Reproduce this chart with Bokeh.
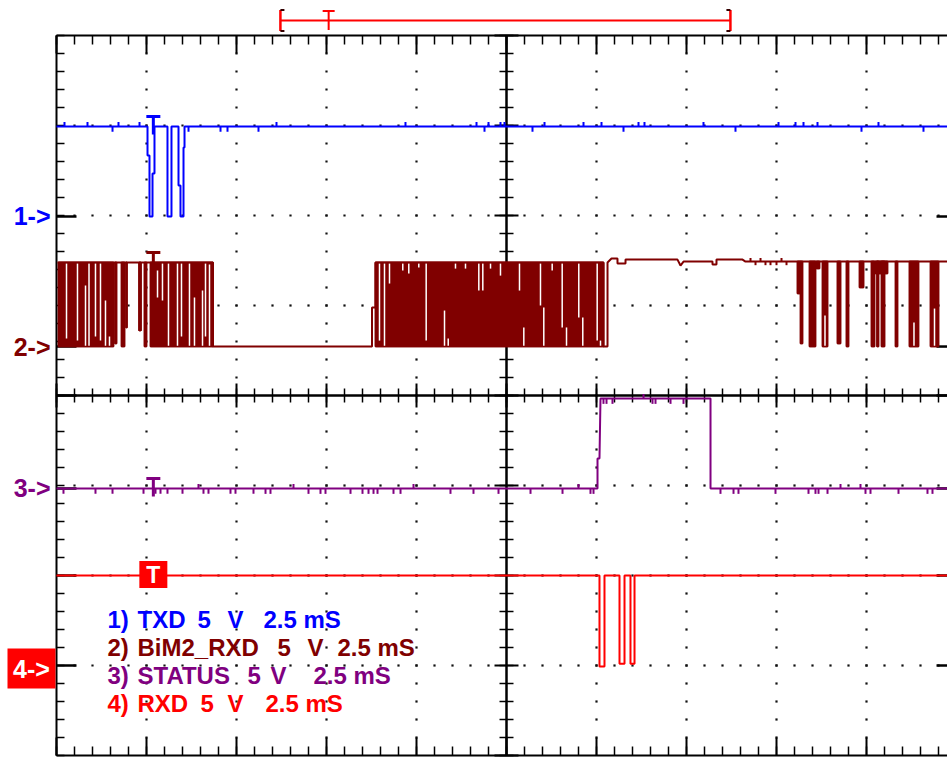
import numpy as np
from bokeh.plotting import figure
from bokeh.models import Range1d
from bokeh.embed import file_html
from bokeh.resources import INLINE
from bokeh.core.properties import value

# ================= scope settings =================
MS_PER_DIV = 2.5
V_PER_DIV = 5.0
N_XDIV = 10
N_YDIV = 8
CH_NAMES = ["TXD", "BiM2_RXD", "STATUS", "RXD"]
CH_COLORS = ["#0000FF", "#800000", "#800080", "#FF0000"]
CH_GROUND_DIV = [1.99, 0.544, -1.033, -3.0]      # ground markers 1-> .. 4->
TRIG_T = 2.69                                     # ms from left edge of screen
TRIG_LEVEL_V = 5.0                                # trigger on channel 4
TRACE_T_LEVEL_V = [5.0, 4.67, 0.0]                # level of the T marks on ch1..ch3
REC_WINDOW_T = [6.22, 18.72]                      # record bar at the top
REC_TRIG_T = 7.56

# ================= channel 1 : TXD =================
CH1_T = [0.0, 2.528, 2.528, 2.583, 2.583, 2.667, 2.667, 2.722, 2.722, 3.083, 3.083,
         3.194, 3.194, 3.389, 3.389, 3.444, 3.444, 3.528, 3.528, 3.556, 3.556, 25.0]
CH1_V = [5.0, 5.0, 3.39, 3.39, 0.0, 0.0, 2.39, 2.39, 5.0, 5.0, 0.0,
         0.0, 5.0, 5.0, 1.72, 1.72, 0.0, 0.0, 3.83, 3.83, 5.0, 5.0]
CH1_GLITCH_T = [0.222, 0.861, 1.556, 1.722, 2.306, 3.667, 4.556, 4.75, 5.611, 6.111,
                9.694, 11.667, 11.889, 12.0, 12.333, 12.444, 13.222, 13.556, 14.639, 15.139,
                15.75, 16.167, 16.333, 17.972, 18.861, 20.056, 20.528, 20.75, 21.139, 22.361,
                22.833, 24.083]
CH1_GLITCH_DV = [0.25, 0.25, -0.3, 0.25, 0.25, -0.3, -0.3, -0.3, -0.3, 0.25,
                 0.25, 0.25, -0.3, 0.25, 0.25, 0.25, -0.3, 0.25, 0.25, 0.25,
                 -0.3, 0.25, 0.25, 0.25, -0.3, 0.25, 0.25, 0.25, 0.25, -0.3,
                 0.25, -0.3]

# ================= channel 2 : BiM2_RXD =================
CH2_T = [0.028, 4.347, 4.347, 8.764, 8.764, 8.861, 8.861, 15.194, 15.194, 15.306, 15.306,
         15.417, 15.583, 15.583, 15.806, 15.806, 17.25, 17.333, 17.417, 18.222, 18.222,
         18.333, 18.333, 19.056, 19.139, 25.0]
CH2_V = [4.67, 4.67, 0.0, 0.0, 2.17, 2.17, 4.67, 4.67, 0.0, 0.0, 4.67,
         4.89, 4.89, 4.61, 4.61, 4.83, 4.83, 4.5, 4.72, 4.72, 4.56,
         4.56, 4.83, 4.83, 4.72, 4.72]
# bursts / pulses (fast toggling shown as filled blocks)
CH2_BLK_T0 = [0.056, 1.625, 1.806, 1.931, 2.292, 2.444, 2.611, 8.861,
              20.583, 20.667, 20.917, 21.111, 21.278, 21.694, 21.944, 22.306,
              22.639, 22.75, 22.792, 22.917, 23.306, 23.694, 24.278]
CH2_BLK_T1 = [1.583, 1.667, 1.889, 1.958, 2.347, 2.5, 4.347, 15.194,
              20.667, 20.722, 21.083, 21.194, 21.417, 21.778, 22.0, 22.417,
              22.722, 23.083, 22.833, 23.0, 23.361, 23.944, 24.5]
CH2_BLK_VLO = [0.0, 0.17, 0.0, 1.06, 0.89, 0.0, 0.0, 0.0,
               2.94, 0.17, 0.0, 4.33, 0.0, 0.17, 0.0, 3.28,
               0.0, 4.06, 0.0, 0.0, 0.0, 0.0, 0.0]
CH2_BLK_VHI = [4.67, 4.67, 4.67, 4.67, 4.67, 4.67, 4.67, 4.67,
               4.72, 4.72, 4.72, 4.72, 4.72, 4.72, 4.72, 4.72,
               4.72, 4.72, 4.72, 4.72, 4.72, 4.72, 4.72]
# gaps inside the bursts (signal held for a moment)
CH2_GAP_T = [0.278, 0.583, 0.806, 0.903, 1.083, 1.222, 1.361, 1.472,
             2.806, 2.944, 3.111, 3.361, 3.472, 3.694, 3.833, 4.056, 4.139, 4.25,
             8.972, 9.111, 9.25, 9.619, 9.786, 10.064, 10.269, 10.778, 10.881, 11.083,
             11.361, 11.731, 11.842, 12.056, 12.333, 12.861, 12.981, 13.444, 13.536, 13.769,
             14.047, 14.167, 14.508, 14.619, 15.019, 15.111,
             21.347, 23.819, 24.389]
CH2_GAP_VTOP = [4.67, 4.67, 3.39, 4.67, 4.67, 4.67, 2.56, 0.56,
                4.22, 4.67, 4.67, 4.67, 4.67, 4.67, 2.72, 3.11, 4.67, 4.56,
                4.67, 4.67, 4.67, 4.67, 4.67, 4.67, 4.67, 2.0, 0.44, 4.67,
                4.67, 4.67, 4.67, 4.67, 4.67, 4.67, 1.06, 4.67, 2.17, 4.67,
                4.67, 1.06, 4.67, 1.61, 4.67, 0.33,
                1.72, 1.33, 2.11]
CH2_GAP_VBOT = [0.44, 0.33, 0.0, 0.0, 0.56, 0.33, 0.0, 0.0,
                2.72, 2.56, 0.0, 0.0, 0.56, 0.0, 0.0, 0.0, 0.56, 0.0,
                0.33, 0.0, 3.5, 4.22, 4.06, 4.39, 0.33, 0.0, 0.0, 4.33,
                4.33, 3.11, 3.11, 4.33, 3.94, 3.11, 0.0, 2.28, 0.0, 4.22,
                1.06, 0.0, 1.61, 0.0, 0.33, 0.0,
                0.0, 0.0, 0.0]
CH2_GLITCH_T = [19.278, 19.417, 19.556, 19.694, 19.833, 20.0, 20.139, 20.278]
CH2_GLITCH_DV = [0.2, -0.2, 0.2, -0.2, -0.2, -0.2, 0.2, -0.2]

# ================= channel 3 : STATUS =================
CH3_T = [0.0, 15.028, 15.028, 15.083, 15.111, 18.167, 18.167, 25.0]
CH3_V = [0.0, 0.0, 1.67, 1.67, 5.0, 5.0, 0.0, 0.0]
CH3_GLITCH_T = [0.194, 1.083, 1.556, 2.417, 2.75, 2.889, 3.083, 3.5, 3.944, 4.083,
                4.222, 4.833, 4.972, 5.472, 5.806, 5.944, 6.583, 7.0, 7.333, 7.472,
                8.167, 8.5, 8.667, 8.806, 8.917, 9.361, 9.556, 9.917, 10.944, 11.583,
                12.278, 13.167, 14.056, 14.5, 14.833, 14.917, 15.194, 15.278, 15.444, 16.306,
                16.556, 16.639, 17.056, 17.417, 18.444, 18.806, 18.944, 19.972, 20.889, 21.083,
                21.167, 21.417, 21.778, 22.333, 22.472, 22.611, 23.389, 24.194, 24.333]
CH3_GLITCH_DV = [-0.3, -0.3, -0.3, -0.3, -0.3, -0.3, -0.3, -0.3, 0.25, -0.3,
                 -0.3, -0.3, -0.3, -0.3, -0.3, -0.3, 0.25, -0.3, -0.3, -0.3,
                 -0.3, -0.3, -0.3, -0.3, -0.3, -0.3, -0.3, 0.25, -0.3, -0.3,
                 -0.3, -0.3, -0.3, 0.25, -0.3, -0.3, -0.3, -0.3, -0.3, 0.25,
                 -0.3, -0.3, -0.3, -0.3, -0.3, -0.3, -0.3, -0.3, -0.3, -0.3,
                 -0.3, -0.3, 0.25, 0.25, -0.3, -0.3, -0.3, -0.3, -0.3]

# ================= channel 4 : RXD =================
CH4_T = [0.0, 15.083, 15.083, 15.222, 15.222, 15.639, 15.639, 15.778, 15.778,
         15.944, 15.944, 16.056, 16.056, 25.0]
CH4_V = [5.0, 5.0, -0.05, -0.05, 5.0, 5.0, 0.1, 0.1, 5.0,
         5.0, 0.1, 0.1, 5.0, 5.0]

# ================= legend =================
LEG_SCALE = ["5", "V", "2.5", "mS"]

# ================= layout (screen geometry) =================
W, H = 947, 758
PX_MS, PX_DIV = 36.0, 90.0          # px per ms, px per division
ORG_X, ORG_Y = 56.0, 395.0          # px of t=0 / y=0 (screen centre line)
FONT = value("Liberation Sans")


def tx(px):   # px -> ms
    return (px - ORG_X) / PX_MS


def ty(py):   # px -> div
    return (ORG_Y - py) / PX_DIV


def vdiv(ch, v):
    return CH_GROUND_DIV[ch] + np.asarray(v, dtype=float) / V_PER_DIV


p = figure(width=W, height=H, output_backend="svg", toolbar_location=None,
           x_range=Range1d(-ORG_X / PX_MS, (W - ORG_X) / PX_MS),
           y_range=Range1d(-(H - ORG_Y) / PX_DIV, ORG_Y / PX_DIV),
           x_axis_location=None, y_axis_location=None, title=None,
           min_border=0, outline_line_color=None,
           background_fill_color="white", border_fill_color="white")
p.xgrid.grid_line_color = None
p.ygrid.grid_line_color = None

T_END = N_XDIV * MS_PER_DIV
Y_TOP = N_YDIV / 2
xs_minor = np.arange(0, N_XDIV * 5 + 1) * MS_PER_DIV / 5
xs_major = np.arange(0, N_XDIV + 1) * MS_PER_DIV
ys_minor = np.arange(-N_YDIV * 5 // 2, N_YDIV * 5 // 2 + 1) / 5.0
ys_major = np.arange(-N_YDIV // 2, N_YDIV // 2 + 1).astype(float)
X_MID = T_END / 2

# ---- dotted graticule ----
dx, dy = [], []
for xm in xs_major[1:-1]:
    if abs(xm - X_MID) < 1e-9:
        continue
    for yv in ys_minor[1:-1]:
        dx.append(xm); dy.append(yv)
for ym in ys_major[1:-1]:
    if abs(ym) < 1e-9:
        continue
    for xv in xs_minor[1:-1]:
        if abs(xv - X_MID) < 1e-9:
            continue
        dx.append(xv); dy.append(ym)
p.scatter(dx, dy, marker="square", size=2.2, fill_color="#111111", line_color=None)

BLK = "#000000"
# ---- border ----
p.segment(x0=[0, 0, 0, T_END], y0=[-Y_TOP, Y_TOP, -Y_TOP, -Y_TOP],
          x1=[0, T_END, T_END, T_END], y1=[Y_TOP, Y_TOP, -Y_TOP, Y_TOP],
          line_color=BLK, line_width=2)
# top / bottom ticks
mn, mj = 9 / PX_DIV, 18 / PX_DIV
p.segment(x0=xs_minor, y0=[Y_TOP] * len(xs_minor), x1=xs_minor, y1=[Y_TOP - mn] * len(xs_minor),
          line_color=BLK, line_width=1.5)
p.segment(x0=xs_major, y0=[Y_TOP] * len(xs_major), x1=xs_major, y1=[Y_TOP - mj] * len(xs_major),
          line_color=BLK, line_width=2)
p.segment(x0=xs_minor, y0=[-Y_TOP] * len(xs_minor), x1=xs_minor, y1=[-Y_TOP + mn] * len(xs_minor),
          line_color=BLK, line_width=1.5)
p.segment(x0=xs_major, y0=[-Y_TOP] * len(xs_major), x1=xs_major, y1=[-Y_TOP + mj] * len(xs_major),
          line_color=BLK, line_width=2)
# left / right ticks
lm = 8 / PX_MS
p.segment(x0=[0] * len(ys_minor), y0=ys_minor, x1=[lm] * len(ys_minor), y1=ys_minor,
          line_color=BLK, line_width=1.5)
p.segment(x0=[T_END] * len(ys_minor), y0=ys_minor, x1=[T_END - lm] * len(ys_minor), y1=ys_minor,
          line_color=BLK, line_width=1.5)
marks_y = list(CH_GROUND_DIV) + [0.0, CH_GROUND_DIV[3] + TRIG_LEVEL_V / V_PER_DIV]
ll = 20 / PX_MS
p.segment(x0=[0] * len(marks_y), y0=marks_y, x1=[ll] * len(marks_y), y1=marks_y,
          line_color=BLK, line_width=2.5)
p.segment(x0=[T_END] * len(marks_y), y0=marks_y, x1=[T_END - ll] * len(marks_y), y1=marks_y,
          line_color=BLK, line_width=2.5)
# centre cross
p.segment(x0=[0, X_MID], y0=[0, -Y_TOP], x1=[T_END, X_MID], y1=[0, Y_TOP],
          line_color=BLK, line_width=2.5)
ct, cj = 7 / PX_DIV, 12 / PX_DIV
p.segment(x0=xs_minor, y0=[-ct] * len(xs_minor), x1=xs_minor, y1=[ct] * len(xs_minor),
          line_color=BLK, line_width=1.5)
p.segment(x0=xs_major, y0=[-cj] * len(xs_major), x1=xs_major, y1=[cj] * len(xs_major),
          line_color=BLK, line_width=2)
ctx, cjx = 7 / PX_MS, 12 / PX_MS
p.segment(x0=[X_MID - ctx] * len(ys_minor), y0=ys_minor, x1=[X_MID + ctx] * len(ys_minor), y1=ys_minor,
          line_color=BLK, line_width=1.5)
p.segment(x0=[X_MID - cjx] * len(ys_major), y0=ys_major, x1=[X_MID + cjx] * len(ys_major), y1=ys_major,
          line_color=BLK, line_width=2)

# ================= traces =================
LW = 2
# channel 1
c = CH_COLORS[0]
p.line(CH1_T, vdiv(0, CH1_V), line_color=c, line_width=LW)
b1 = np.interp(CH1_GLITCH_T, CH1_T, CH1_V)
p.segment(x0=CH1_GLITCH_T, y0=vdiv(0, b1), x1=CH1_GLITCH_T, y1=vdiv(0, b1 + np.array(CH1_GLITCH_DV)),
          line_color=c, line_width=2)

# channel 2
c = CH_COLORS[1]
p.quad(left=CH2_BLK_T0, right=CH2_BLK_T1, bottom=vdiv(1, CH2_BLK_VLO), top=vdiv(1, CH2_BLK_VHI),
       fill_color=c, line_color=c, line_width=1.5)
p.segment(x0=CH2_GAP_T, y0=vdiv(1, CH2_GAP_VTOP), x1=CH2_GAP_T, y1=vdiv(1, CH2_GAP_VBOT),
          line_color="white", line_width=1.5)
p.quad(left=CH2_BLK_T0, right=CH2_BLK_T1, bottom=vdiv(1, CH2_BLK_VLO), top=vdiv(1, CH2_BLK_VHI),
       fill_alpha=0, line_color=c, line_width=1.5)
p.line(CH2_T, vdiv(1, CH2_V), line_color=c, line_width=LW)
b2 = np.interp(CH2_GLITCH_T, CH2_T, CH2_V)
p.segment(x0=CH2_GLITCH_T, y0=vdiv(1, b2), x1=CH2_GLITCH_T, y1=vdiv(1, b2 + np.array(CH2_GLITCH_DV)),
          line_color=c, line_width=2)

# channel 3
c = CH_COLORS[2]
p.line(CH3_T, vdiv(2, CH3_V), line_color=c, line_width=LW)
b3 = np.interp(CH3_GLITCH_T, CH3_T, CH3_V)
p.segment(x0=CH3_GLITCH_T, y0=vdiv(2, b3), x1=CH3_GLITCH_T, y1=vdiv(2, b3 + np.array(CH3_GLITCH_DV)),
          line_color=c, line_width=2)

# channel 4
c = CH_COLORS[3]
p.line(CH4_T, vdiv(3, CH4_V), line_color=c, line_width=LW)

# ---- T marks on channels 1..3 ----
for ch in range(3):
    lvl = float(vdiv(ch, TRACE_T_LEVEL_V[ch]))
    top = lvl + 10 / PX_DIV
    p.segment(x0=[TRIG_T - 7 / PX_MS, TRIG_T], y0=[top, top],
              x1=[TRIG_T + 7 / PX_MS, TRIG_T], y1=[top, lvl - 8 / PX_DIV],
              line_color=CH_COLORS[ch], line_width=3)

# ---- trigger box on channel 4 ----
ty4 = float(vdiv(3, TRIG_LEVEL_V))
p.rect(x=[TRIG_T], y=[ty4 + 1 / PX_DIV], width=28, height=27, width_units="screen",
       height_units="screen", fill_color="#FF0000", line_color=None)
p.text(x=[TRIG_T], y=[ty4 + 1 / PX_DIV], text=["T"], text_color="white", text_font=FONT,
       text_font_style="bold", text_font_size="23px", text_align="center", text_baseline="middle")

# ---- record bar at the top ----
yb = ty(20)
hb = 10.5 / PX_DIV
RED = "#FF0000"
p.segment(x0=[REC_WINDOW_T[0]], y0=[yb], x1=[REC_WINDOW_T[1]], y1=[yb], line_color=RED, line_width=2)
p.segment(x0=REC_WINDOW_T, y0=[yb - hb] * 2, x1=REC_WINDOW_T, y1=[yb + hb] * 2,
          line_color=RED, line_width=2.5)
tk = 4 / PX_MS
p.segment(x0=[REC_WINDOW_T[0]] * 2 + [REC_WINDOW_T[1]] * 2,
          y0=[yb - hb, yb + hb, yb - hb, yb + hb],
          x1=[REC_WINDOW_T[0] + tk] * 2 + [REC_WINDOW_T[1] - tk] * 2,
          y1=[yb - hb, yb + hb, yb - hb, yb + hb],
          line_color="#330000", line_width=2)
p.segment(x0=[REC_TRIG_T - 6 / PX_MS, REC_TRIG_T], y0=[yb + hb - 1 / PX_DIV, yb + hb - 1 / PX_DIV],
          x1=[REC_TRIG_T + 6 / PX_MS, REC_TRIG_T], y1=[yb + hb - 1 / PX_DIV, yb - hb + 1 / PX_DIV],
          line_color=RED, line_width=2)

# ---- channel markers ----
for ch in range(3):
    p.text(x=[tx(50)], y=[CH_GROUND_DIV[ch]], text=[f"{ch + 1}->"], text_color=CH_COLORS[ch],
           text_font=FONT, text_font_style="bold", text_font_size="25px",
           text_align="right", text_baseline="middle")
p.rect(x=[tx(31)], y=[ty(668)], width=48, height=40, width_units="screen", height_units="screen",
       fill_color="#FF0000", line_color=None)
p.text(x=[tx(31)], y=[ty(668)], text=["4->"], text_color="white", text_font=FONT,
       text_font_style="bold", text_font_size="25px", text_align="center", text_baseline="middle")

# ---- legend ----
LEG_X = [[107, 137, 197, 227, 263, 303],
         [107, 137, 277, 307, 337, 377],
         [107, 137, 247, 270, 313, 353],
         [107, 137, 200, 227, 265, 305]]
LEG_Y = [619, 647, 675, 703]
for ch in range(4):
    toks = [f"{ch + 1})", CH_NAMES[ch]] + LEG_SCALE
    p.text(x=[tx(v) for v in LEG_X[ch]], y=[ty(LEG_Y[ch])] * len(toks), text=toks,
           text_color=CH_COLORS[ch], text_font=FONT, text_font_style="bold",
           text_font_size="24px", text_align="left", text_baseline="middle")

open("out.html", "w").write(file_html(p, INLINE, title="Scope capture"))
